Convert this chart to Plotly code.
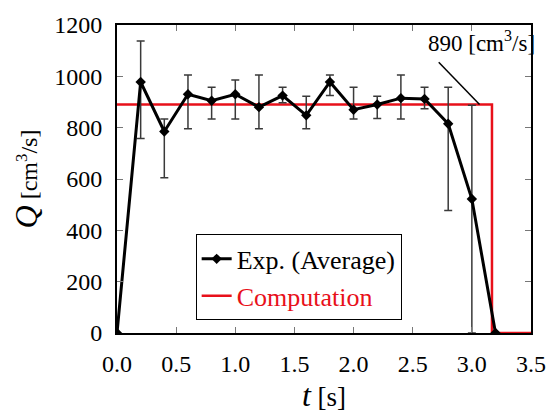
import plotly.graph_objects as go

# Measured flow rate (average of runs) with min/max range
t_exp = [0.0, 0.2, 0.4, 0.6, 0.8, 1.0, 1.2, 1.4, 1.6, 1.8, 2.0, 2.2, 2.4, 2.6, 2.8, 3.0, 3.2]
q_exp = [0, 978, 785, 930, 905, 930, 880, 925, 848, 978, 870, 890, 915, 912, 815, 522, 0]
q_max = [0, 1138, 834, 1005, 957, 986, 1005, 957, 922, 1005, 957, 922, 1005, 957, 957, 887, 0]
q_min = [0, 758, 605, 796, 834, 834, 796, 897, 796, 925, 834, 836, 834, 874, 477, 0, 0]

# Computed flow rate: constant discharge, then shut-off
t_comp = [0.0, 3.17, 3.17, 3.5]
q_comp = [890, 890, 0, 0]
q_label = 890

err_plus = [hi - q for hi, q in zip(q_max, q_exp)]
err_minus = [q - lo for lo, q in zip(q_min, q_exp)]

FONT = "Liberation Serif, Times New Roman, serif"

fig = go.Figure()

fig.add_trace(go.Scatter(
    x=t_comp, y=q_comp, mode="lines",
    line=dict(color="#e8101a", width=2.5),
    name="<span style='color:#e8101a'>Computation</span>",
))

fig.add_trace(go.Scatter(
    x=t_exp, y=q_exp, mode="lines+markers",
    line=dict(color="black", width=3),
    marker=dict(symbol="diamond", size=8, color="black"),
    error_y=dict(type="data", symmetric=False, array=err_plus, arrayminus=err_minus,
                 color="#3a3a3a", thickness=1.5, width=4),
    name="Exp. (Average)",
))

# Leader line and label for the computed value
fig.add_shape(type="line", x0=2.72, y0=1055, x1=3.065, y1=q_label,
              line=dict(color="black", width=1.5))
fig.add_annotation(x=3.08, y=1135, text=f"{q_label} [cm<sup>3</sup>/s]",
                   showarrow=False, font=dict(family=FONT, size=23, color="black"))

axis_common = dict(
    showline=True, linecolor="black", linewidth=2, mirror="ticks",
    ticks="inside", ticklen=6, tickwidth=1, tickcolor="#777",
    showgrid=False, zeroline=False,
    tickfont=dict(family=FONT, size=24, color="black"),
)

fig.update_xaxes(range=[0, 3.5], tickvals=[0, 0.5, 1.0, 1.5, 2.0, 2.5, 3.0, 3.5],
                 ticktext=["0.0", "0.5", "1.0", "1.5", "2.0", "2.5", "3.0", "3.5"],
                 ticklabelstandoff=8,
                 title=dict(text="<i><span style='font-size:32px'>t</span></i> [s]",
                            font=dict(family=FONT, size=27, color="black"), standoff=4),
                 **axis_common)
fig.update_yaxes(range=[0, 1200], tickvals=[0, 200, 400, 600, 800, 1000, 1200],
                 ticklabelstandoff=8,
                 title=dict(text="<i><span style='font-size:32px'>Q</span></i> [cm<sup>3</sup>/s]",
                            font=dict(family=FONT, size=24, color="black"), standoff=10),
                 **axis_common)

fig.update_layout(
    width=558, height=417,
    margin=dict(l=117, r=19, t=17, b=84),
    paper_bgcolor="white", plot_bgcolor="white",
    font=dict(family=FONT, size=24, color="black"),
    legend=dict(x=0.19, y=0.32, xanchor="left", yanchor="top",
                bgcolor="white", bordercolor="black", borderwidth=1,
                font=dict(family=FONT, size=26, color="black"),
                traceorder="reversed", tracegroupgap=0, itemwidth=30),
)

fig.write_html("out.html")
